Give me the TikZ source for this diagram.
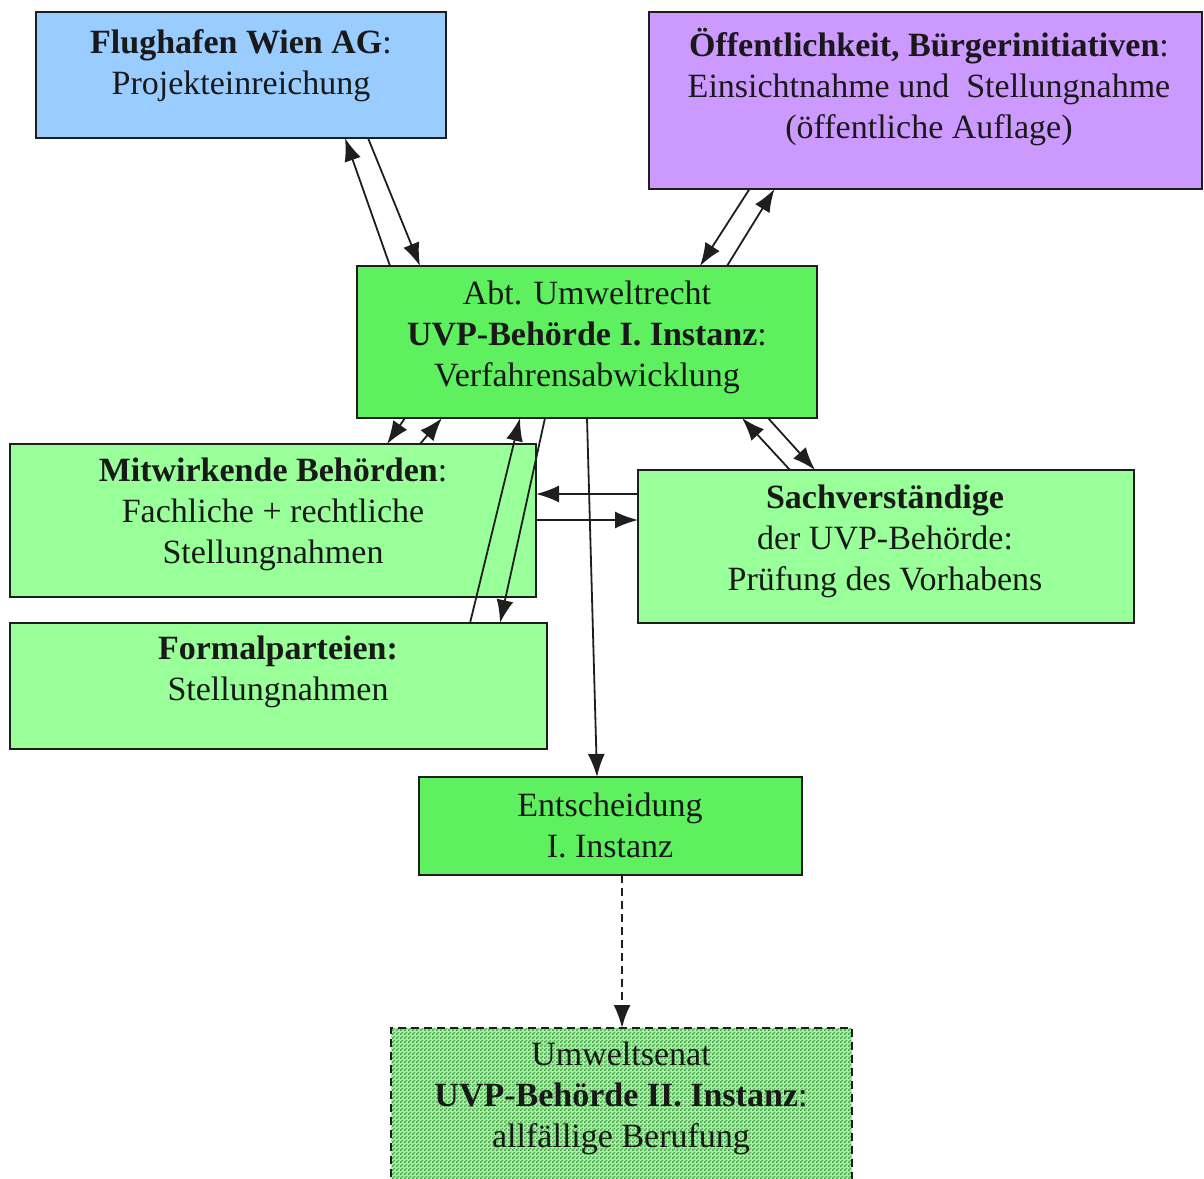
\documentclass[tikz,border=0pt]{standalone}
\usepackage{fontspec}
\setmainfont{Liberation Serif}
\usetikzlibrary{arrows.meta,patterns}
\definecolor{cblue}{HTML}{99CCFF}
\definecolor{cpurple}{HTML}{CC99FF}
\definecolor{cgreen}{HTML}{5EF05E}
\definecolor{clight}{HTML}{99FF99}
\definecolor{cpatbase}{HTML}{B0ECB0}
\definecolor{cpat}{HTML}{3FA83F}
\definecolor{cline}{HTML}{1E1E1E}
\pgfdeclarepatternformonly{checker}{\pgfpointorigin}{\pgfpoint{4pt}{4pt}}{\pgfpoint{4pt}{4pt}}{%
  \pgfpathrectangle{\pgfpointorigin}{\pgfpoint{2pt}{2pt}}%
  \pgfpathrectangle{\pgfpoint{2pt}{2pt}}{\pgfpoint{2pt}{2pt}}%
  \pgfusepath{fill}}
\tikzset{
  box/.style={draw=cline, line width=2pt, inner sep=0pt, outer sep=0pt},
  lbl/.style={align=center, inner sep=0pt, font=\fontsize{34pt}{41pt}\selectfont, text=black!90},
  conn/.style={draw=cline, line width=1.8pt, -{Latex[length=23pt,width=17pt]}},
  dconn/.style={conn, line width=2.4pt, dash pattern=on 8pt off 5pt}
}
\begin{document}
\begin{tikzpicture}[x=1pt,y=-1pt]
\useasboundingbox (0,0) rectangle (1204,1178);
\clip (0,0) rectangle (1204,1178);
% boxes
\node[box, fill=cblue, minimum width=410pt, minimum height=126pt] (fw) at (241,75) {};
\node[box, fill=cpurple, minimum width=553pt, minimum height=177pt] (oe) at (925.5,100.5) {};
\node[box, fill=cgreen, minimum width=460pt, minimum height=152pt] (abt) at (587,342) {};
\node[box, fill=clight, minimum width=526pt, minimum height=153pt] (mit) at (273,520.5) {};
\node[box, fill=clight, minimum width=496pt, minimum height=153pt] (sach) at (886,546.5) {};
\node[box, fill=clight, minimum width=537pt, minimum height=126pt] (form) at (278.5,686) {};
\node[box, fill=cgreen, minimum width=383pt, minimum height=98pt] (ent) at (610.5,826) {};
\node[box, line width=2.4pt, dash pattern=on 8pt off 5pt, preaction={fill=cpatbase}, pattern=checker, pattern color=cpat, minimum width=461pt, minimum height=172pt] (usen) at (621.5,1114) {};
% labels
\node[lbl] (tfw) at (241,66) {\textbf{Flughafen Wien AG}:\\Projekteinreichung};
\node[lbl] (toe) at (929,87) {\textbf{Öffentlichkeit, Bürgerinitiativen}:\\Einsichtnahme und~ Stellungnahme\\(öffentliche Auflage)};
\node[lbl] (tabt) at (587,337) {Abt. Umweltrecht\\\textbf{UVP-Behörde I. Instanz}:\\Verfahrensabwicklung};
\node[lbl] (tmit) at (273,514) {\textbf{Mitwirkende Behörden}:\\Fachliche + rechtliche\\Stellungnahmen};
\node[lbl] (tsach) at (885,541) {\textbf{Sachverständige}\\der UVP-Behörde:\\Prüfung des Vorhabens};
\node[lbl] (tform) at (278,672) {\textbf{Formalparteien:}\\Stellungnahmen};
\node[lbl] (tent) at (610,825) {Entscheidung\\I. Instanz};
\node[lbl] (tusen) at (621,1098) {Umweltsenat\\\textbf{UVP-Behörde II. Instanz}:\\allfällige Berufung};
% connectors
\draw[conn] ([xshift=-197pt]abt.north) -- ([xshift=104pt]fw.south);
\draw[conn] ([xshift=127pt]fw.south) -- ([xshift=-167pt]abt.north);
\draw[conn] ([xshift=-176pt]oe.south) -- ([xshift=113pt]abt.north);
\draw[conn] ([xshift=140pt]abt.north) -- ([xshift=-151pt]oe.south);
\draw[conn] ([xshift=-182pt]abt.south) -- ([xshift=114pt]mit.north);
\draw[conn] ([xshift=147pt]mit.north) -- ([xshift=-145pt]abt.south);
\draw[conn] ([xshift=191.5pt]form.north) -- ([xshift=-67pt]abt.south);
\draw[conn] ([xshift=-42pt]abt.south) -- ([xshift=221.5pt]form.north);
\draw[conn] ([yshift=52.5pt]sach.west) -- ([yshift=26.5pt]mit.east);
\draw[conn] ([yshift=0.5pt]mit.east) -- ([yshift=26.5pt]sach.west);
\draw[conn] (abt.south) -- ([xshift=-13.5pt]ent.north);
\draw[conn] ([xshift=-96pt]sach.north) -- ([xshift=155pt]abt.south);
\draw[conn] ([xshift=181pt]abt.south) -- ([xshift=-71pt]sach.north);
\draw[dconn] ([xshift=11.5pt]ent.south) -- ([xshift=0.5pt]usen.north);
\end{tikzpicture}
\end{document}
